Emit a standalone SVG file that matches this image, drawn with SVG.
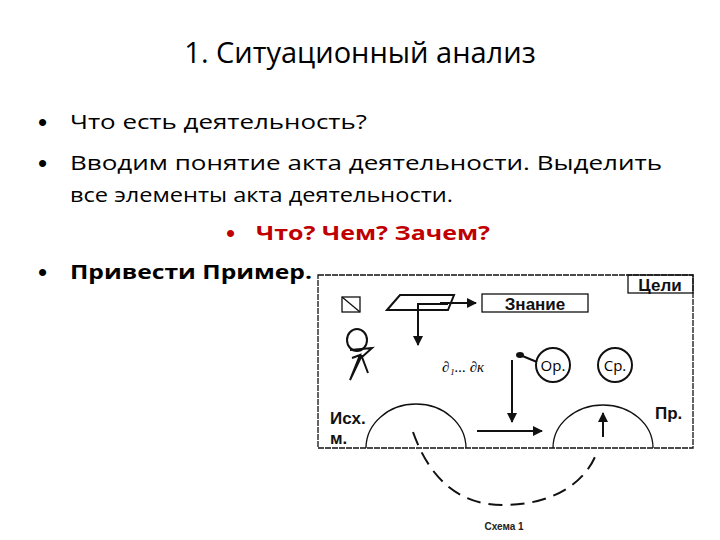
<svg xmlns="http://www.w3.org/2000/svg" width="720" height="540" viewBox="0 0 720 540">
<style>
.t{font-family:"Open Sans","Liberation Sans",sans-serif;fill:#000}
.s{fill:none;stroke:#111;stroke-width:2}
.th{fill:none;stroke:#111;stroke-width:1.3}
.b{font-family:"Liberation Sans",Arial,sans-serif;font-weight:bold;fill:#111}
.bu{font-family:"Liberation Sans",sans-serif;font-size:26px;fill:#000}
</style>
<defs><marker id="a" viewBox="0 0 10 10" refX="9" refY="5" markerWidth="5" markerHeight="5" orient="auto"><path d="M0,0L10,5L0,10z" fill="#111"/></marker></defs>
<rect width="720" height="540" fill="#fff"/>
<g id="text">
<text class="t" x="360" y="63" font-size="29" text-anchor="middle">1. Ситуационный анализ</text>
<text class="bu" x="38" y="131">•</text><text class="t" x="70" y="129" font-size="20" textLength="297" lengthAdjust="spacingAndGlyphs">Что есть деятельность?</text>
<text class="bu" x="38" y="172">•</text><text class="t" x="70" y="170" font-size="20" textLength="592" lengthAdjust="spacingAndGlyphs">Вводим понятие акта деятельности. Выделить</text>
<text class="t" x="70" y="202" font-size="20" textLength="383" lengthAdjust="spacingAndGlyphs">все элементы акта деятельности.</text>
<text class="bu" x="226" y="242" style="fill:#c00000">•</text><text class="t" x="256" y="240" font-size="20" font-weight="bold" style="fill:#c00000" textLength="234" lengthAdjust="spacingAndGlyphs">Что? Чем? Зачем?</text>
<text class="bu" x="38" y="281">•</text><text class="t" x="70" y="279" font-size="20" font-weight="bold" textLength="242" lengthAdjust="spacingAndGlyphs">Привести Пример.</text>
</g>
<g id="frame"><rect class="th" x="318" y="275" width="375" height="173" stroke-dasharray="6 1"/></g>
<g id="celi"><rect class="th" x="628" y="275" width="65" height="18"/><text class="b" x="660" y="291" font-size="17" text-anchor="middle">Цели</text></g>
<g id="square"><rect class="th" x="342" y="297" width="18" height="15"/><line class="th" x1="342" y1="297" x2="360" y2="312"/></g>
<g id="para"><path class="s" d="M387,310L400,295L454,295L448,310Z"/></g>
<g id="znanie"><rect class="th" x="482" y="294" width="106" height="18"/><text class="b" x="535" y="310" font-size="17" text-anchor="middle">Знание</text></g>
<g id="person"><ellipse class="s" cx="357" cy="340" rx="10" ry="11"/><path class="s" d="M350,350L372,348L362,357L368,373M352,358L360,355L350,380L362,355"/></g>
<g id="d"><text x="442" y="372" font-size="15" font-style="italic" font-family="Liberation Serif,serif">∂₁... ∂к</text></g>
<g id="or"><circle class="s" cx="553" cy="365" r="17"/><text class="t" x="553" y="371" font-size="15" text-anchor="middle">Ор.</text><ellipse cx="520" cy="355" rx="4" ry="3" fill="#111"/><line class="s" x1="520" y1="355" x2="537" y2="362"/></g>
<g id="sr"><circle class="s" cx="615" cy="365" r="17"/><text class="t" x="615" y="371" font-size="15" text-anchor="middle">Ср.</text></g>
<g id="ish"><path class="th" d="M366,448A50,44 0 0 1 466,448"/><text class="b" x="330" y="424" font-size="17">Исх.</text><text class="b" x="330" y="444" font-size="17">м.</text></g>
<g id="pr"><path class="th" d="M553,448A50,43 0 0 1 653,448"/><text class="b" x="655" y="419" font-size="17">Пр.</text></g>
<g id="connectors">
<line class="s" x1="440" y1="303" x2="476" y2="303" marker-end="url(#a)"/>
<path class="s" d="M448,304H418V345" marker-end="url(#a)"/>
<line class="s" x1="512" y1="360" x2="512" y2="422" marker-end="url(#a)"/>
<line class="s" x1="477" y1="431" x2="542" y2="431" marker-end="url(#a)"/>
<line class="s" x1="603" y1="437" x2="603" y2="413" marker-end="url(#a)"/>
<path class="s" d="M413,432C430,480 460,505 503,505C550,505 585,485 597,452" stroke-dasharray="14 8"/>
</g>
<text x="504" y="530" font-size="10" font-weight="bold" text-anchor="middle" font-family="Liberation Sans,sans-serif" fill="#222">Схема 1</text>
</svg>
